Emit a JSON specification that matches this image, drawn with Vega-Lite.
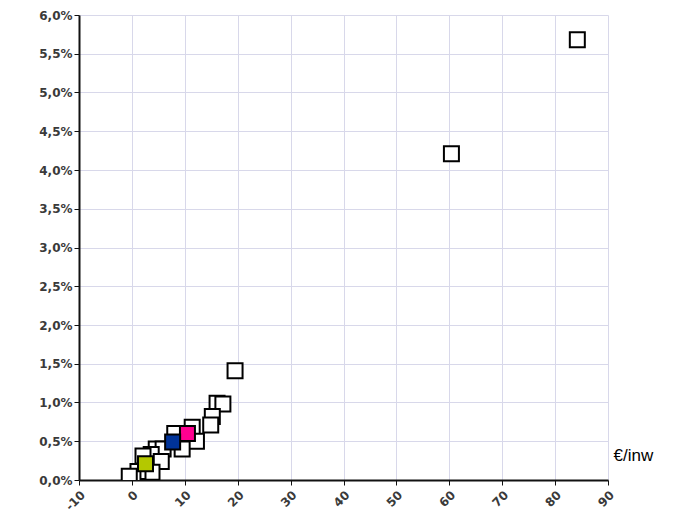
{
  "$schema": "https://vega.github.io/schema/vega-lite/v6.json",
  "width": 529,
  "height": 465,
  "autosize": "none",
  "padding": {"left": 79, "top": 15, "right": 73, "bottom": 38},
  "config": {
    "locale": {"number": {"decimal": ",", "thousands": ".", "grouping": [3], "currency": ["", " €"], "minus": "-"}},
    "view": {"stroke": null},
    "axis": {
      "gridColor": "#d8d8ea",
      "gridWidth": 1,
      "domainColor": "#111111",
      "domainWidth": 2,
      "tickColor": "#111111",
      "tickWidth": 1,
      "tickSize": 5,
      "labelFont": "DejaVu Sans",
      "labelFontSize": 12,
      "labelFontWeight": "bold",
      "labelColor": "#3a3a3a"
    }
  },
  "data": {
    "values": [
      {"x": 84.2, "y": 0.0568, "c": "w"},
      {"x": 60.4, "y": 0.0421, "c": "w"},
      {"x": 19.5, "y": 0.0141, "c": "w"},
      {"x": 16.1, "y": 0.0099, "c": "w"},
      {"x": 17.2, "y": 0.0098, "c": "w"},
      {"x": 15.2, "y": 0.0082, "c": "w"},
      {"x": 14.9, "y": 0.0071, "c": "w"},
      {"x": 11.4, "y": 0.0068, "c": "w"},
      {"x": 12.2, "y": 0.0050, "c": "w"},
      {"x": 9.5, "y": 0.0040, "c": "w"},
      {"x": 8.1, "y": 0.0060, "c": "w"},
      {"x": 4.6, "y": 0.0040, "c": "w"},
      {"x": 5.9, "y": 0.0040, "c": "w"},
      {"x": 3.65, "y": 0.0033, "c": "w"},
      {"x": 2.1, "y": 0.0031, "c": "w"},
      {"x": 5.55, "y": 0.0024, "c": "w"},
      {"x": 3.8, "y": 0.0010, "c": "w"},
      {"x": 1.15, "y": 0.0011, "c": "w"},
      {"x": 0.2, "y": 0.0003, "c": "w"},
      {"x": -0.5, "y": 0.0005, "c": "w"},
      {"x": 10.5, "y": 0.0060, "c": "pink"},
      {"x": 7.7, "y": 0.0049, "c": "blue"},
      {"x": 2.57, "y": 0.0021, "c": "green"}
    ]
  },
  "mark": {"type": "point", "shape": "square", "filled": true, "size": 225, "stroke": "#000000", "strokeWidth": 2, "opacity": 1, "clip": true},
  "encoding": {
    "x": {
      "field": "x", "type": "quantitative",
      "scale": {"domain": [-10, 90], "nice": false, "zero": false},
      "axis": {
        "values": [-10, 0, 10, 20, 30, 40, 50, 60, 70, 80, 90],
        "labelAngle": -45, "labelAlign": "right", "labelBaseline": "top", "labelPadding": 4,
        "title": "€/inw",
        "titleX": 534, "titleY": -25, "titleAlign": "left", "titleBaseline": "middle",
        "titleFont": "Liberation Sans", "titleFontSize": 17, "titleFontWeight": "normal", "titleColor": "#000000"
      }
    },
    "y": {
      "field": "y", "type": "quantitative",
      "scale": {"domain": [0, 0.06], "nice": false},
      "axis": {
        "values": [0, 0.005, 0.01, 0.015, 0.02, 0.025, 0.03, 0.035, 0.04, 0.045, 0.05, 0.055, 0.06],
        "format": ".1%", "title": null, "labelPadding": 2
      }
    },
    "fill": {
      "field": "c", "type": "nominal",
      "scale": {"domain": ["w", "pink", "blue", "green"], "range": ["#ffffff", "#ff0090", "#003399", "#b4c800"]},
      "legend": null
    }
  }
}
